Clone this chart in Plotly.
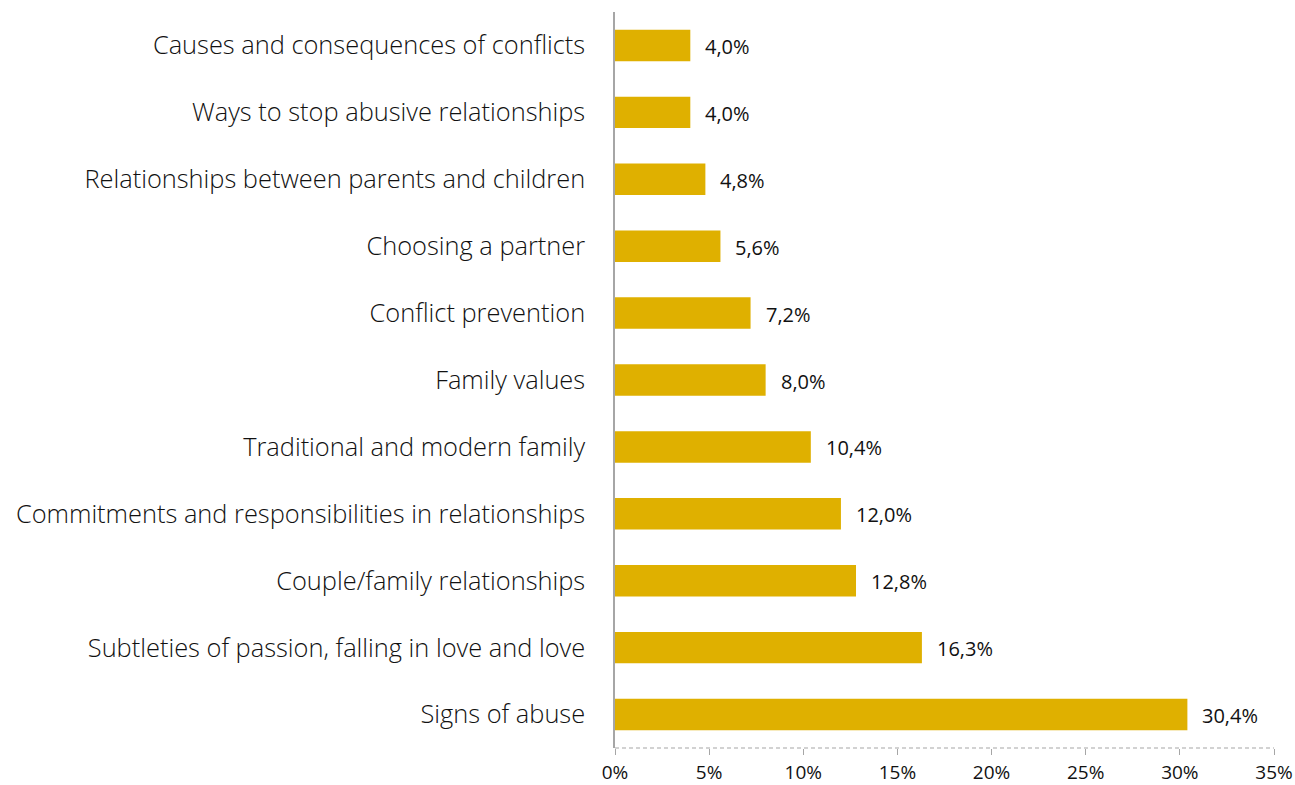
import plotly.graph_objects as go

topics = [
    "Causes and consequences of conflicts",
    "Ways to stop abusive relationships",
    "Relationships between parents and children",
    "Choosing a partner",
    "Conflict prevention",
    "Family values",
    "Traditional and modern family",
    "Commitments and responsibilities in relationships",
    "Couple/family relationships",
    "Subtleties of passion, falling in love and love",
    "Signs of abuse",
]
shares = [4.0, 4.0, 4.8, 5.6, 7.2, 8.0, 10.4, 12.0, 12.8, 16.3, 30.4]
tick_vals = [0, 5, 10, 15, 20, 25, 30, 35]
tick_text = [f"{v}%" for v in tick_vals]

BAR = "#DFB000"
AXIS = "#A6A6A6"
FONT = "Open Sans"
INK = "#111111"

fig = go.Figure(
    go.Bar(
        x=shares,
        y=topics,
        orientation="h",
        marker=dict(color=BAR, line=dict(width=0)),
        width=0.47,
        hoverinfo="skip",
    )
)

for topic, share in zip(topics, shares):
    fig.add_annotation(
        x=share,
        y=topic,
        text=f"{share:.1f}".replace(".", ",") + "%",
        xanchor="left",
        yanchor="middle",
        xshift=13,
        yshift=-1,
        showarrow=False,
        font=dict(family=FONT, size=20, color=INK, weight=400),
    )

# dashed baseline along the value axis
fig.add_shape(
    type="line",
    xref="paper",
    yref="paper",
    x0=0,
    x1=1,
    y0=0,
    y1=0,
    line=dict(color=AXIS, width=1.2, dash="4px,3px"),
)

fig.update_layout(
    width=1295,
    height=785,
    margin=dict(l=615, r=21, t=12, b=37),
    paper_bgcolor="white",
    plot_bgcolor="white",
    showlegend=False,
    bargap=0.53,
    xaxis=dict(
        range=[0, 35],
        tickvals=tick_vals,
        ticktext=tick_text,
        showgrid=False,
        zeroline=False,
        showline=False,
        ticks="outside",
        ticklen=6,
        tickwidth=1.2,
        tickcolor=AXIS,
        ticklabelstandoff=1,
        tickfont=dict(family=FONT, size=19, color=INK, weight=400),
        automargin=False,
        fixedrange=True,
    ),
    yaxis=dict(
        autorange="reversed",
        showgrid=False,
        zeroline=False,
        showline=True,
        linecolor=AXIS,
        linewidth=1.5,
        ticks="",
        ticklabelstandoff=23,
        tickfont=dict(family=FONT, size=25.4, color=INK, weight=300),
        automargin=False,
        fixedrange=True,
    ),
)

fig.write_html("out.html")
